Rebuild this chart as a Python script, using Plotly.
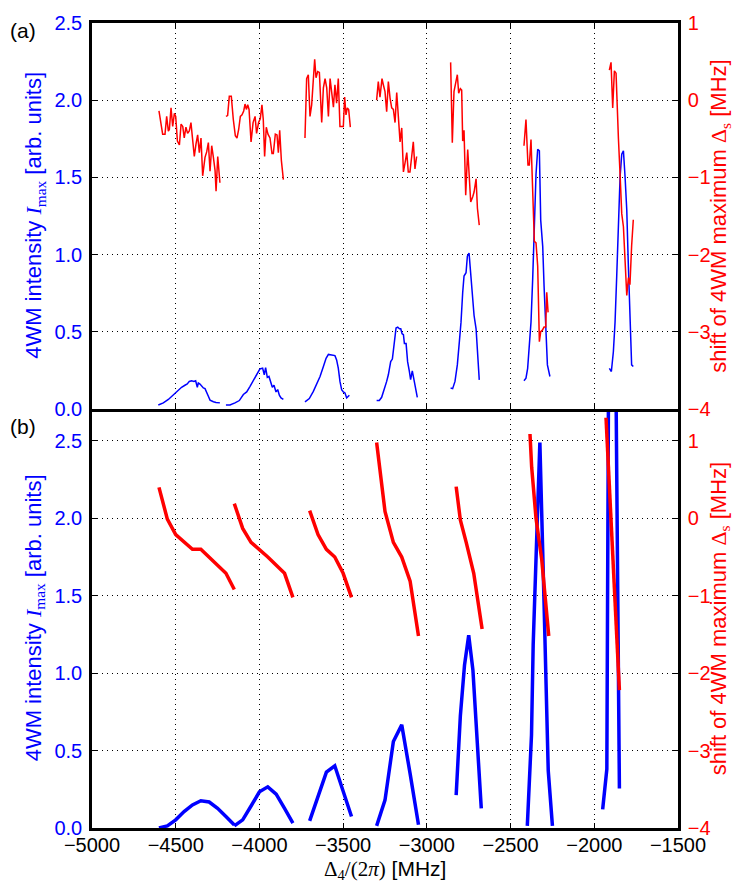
import plotly.graph_objects as go

# ---------------- panel (a): measured scans ----------------
# 4WM intensity I_max (left axis), one list per scan
meas_int_x = [
    [-4604, -4574, -4544, -4524, -4504, -4484, -4465, -4445, -4431, -4419, -4405, -4391, -4381,
     -4371, -4365, -4355, -4345, -4335, -4325, -4315, -4305, -4295, -4285, -4275, -4259, -4236],
    [-4200, -4176, -4146, -4120, -4096, -4076, -4056, -4036, -4017, -3997, -3981, -3971, -3963,
     -3953, -3943, -3933, -3923, -3913, -3901, -3891, -3881, -3871, -3857],
    [-3728, -3702, -3678, -3658, -3638, -3618, -3602, -3588, -3569, -3549, -3539, -3529, -3519,
     -3509, -3499, -3489, -3479, -3463],
    [-3300, -3284, -3270, -3250, -3240, -3230, -3216, -3206, -3196, -3184, -3174, -3164, -3156,
     -3148, -3140, -3134, -3124, -3115, -3105, -3097, -3087, -3077, -3067, -3057],
    [-2858, -2846, -2832, -2818, -2806, -2796, -2786, -2778, -2766, -2758, -2748, -2738, -2726,
     -2718, -2706, -2698, -2687],
    [-2420, -2408, -2398, -2388, -2378, -2368, -2358, -2348, -2338, -2328, -2320, -2308, -2300,
     -2290, -2280, -2265],
    [-1910, -1898, -1886, -1876, -1866, -1856, -1846, -1836, -1826, -1816, -1806, -1797, -1787,
     -1777, -1767],
]
meas_int = [
    [0.025, 0.039, 0.061, 0.082, 0.103, 0.125, 0.140, 0.153, 0.161, 0.178, 0.182, 0.178, 0.182,
     0.140, 0.168, 0.161, 0.146, 0.136, 0.131, 0.110, 0.082, 0.057, 0.050, 0.046, 0.042, 0.039],
    [0.025, 0.025, 0.039, 0.054, 0.093, 0.110, 0.146, 0.182, 0.225, 0.259, 0.264, 0.221, 0.268,
     0.204, 0.210, 0.168, 0.140, 0.153, 0.110, 0.125, 0.089, 0.071, 0.061],
    [0.046, 0.067, 0.114, 0.157, 0.210, 0.274, 0.328, 0.353, 0.349, 0.345, 0.317, 0.264, 0.178,
     0.125, 0.110, 0.103, 0.071, 0.089],
    [0.054, 0.054, 0.075, 0.135, 0.178, 0.221, 0.306, 0.323, 0.413, 0.524, 0.530, 0.519, 0.519,
     0.487, 0.481, 0.423, 0.423, 0.306, 0.246, 0.189, 0.246, 0.189, 0.125, 0.075],
    [0.135, 0.131, 0.178, 0.285, 0.434, 0.562, 0.754, 0.861, 0.882, 0.989, 1.010, 0.861, 0.669,
     0.605, 0.519, 0.391, 0.188],
    [0.182, 0.199, 0.263, 0.391, 0.562, 0.839, 1.138, 1.522, 1.682, 1.672, 1.223, 1.053, 0.797,
     0.562, 0.285, 0.210],
    [0.263, 0.242, 0.370, 0.562, 0.861, 1.159, 1.501, 1.650, 1.672, 1.501, 1.288, 0.946, 0.562,
     0.285, 0.274],
]

# shift of the 4WM maximum in MHz (right axis), one list per scan
meas_shift_x = [
    [-4600, -4578, -4564, -4554, -4544, -4538, -4528, -4518, -4508, -4500, -4490, -4478, -4468,
     -4458, -4449, -4439, -4429, -4419, -4409, -4399, -4389, -4379, -4369, -4359, -4349, -4339,
     -4325, -4315, -4305, -4295, -4285, -4275, -4265, -4259, -4249, -4236],
    [-4200, -4190, -4180, -4168, -4156, -4144, -4134, -4124, -4114, -4104, -4094, -4086, -4078,
     -4070, -4062, -4050, -4038, -4026, -4017, -4005, -3995, -3985, -3977, -3969, -3959, -3949,
     -3937, -3925, -3917, -3905, -3895, -3887, -3879, -3869, -3857],
    [-3728, -3718, -3708, -3698, -3688, -3678, -3670, -3662, -3652, -3642, -3628, -3618, -3608,
     -3598, -3588, -3578, -3568, -3558, -3549, -3539, -3529, -3519, -3509, -3499, -3491, -3483,
     -3475, -3467, -3457],
    [-3300, -3290, -3280, -3268, -3260, -3250, -3240, -3230, -3220, -3210, -3200, -3190, -3180,
     -3170, -3160, -3150, -3140, -3130, -3120, -3111, -3101, -3091, -3081, -3071, -3061],
    [-2858, -2848, -2838, -2828, -2818, -2810, -2800, -2792, -2786, -2778, -2768, -2756, -2746,
     -2738, -2726, -2718, -2706, -2698, -2687],
    [-2420, -2408, -2396, -2388, -2378, -2368, -2358, -2348, -2338, -2328, -2320, -2310, -2300,
     -2290, -2284, -2276],
    [-1910, -1900, -1890, -1880, -1870, -1862, -1856, -1846, -1836, -1826, -1816, -1806, -1796,
     -1787, -1777, -1767],
]
meas_shift = [
    [-0.14, -0.44, -0.44, -0.21, -0.40, -0.38, -0.10, -0.34, -0.17, -0.21, -0.53, -0.58, -0.31,
     -0.34, -0.49, -0.35, -0.43, -0.40, -0.29, -0.49, -0.73, -0.57, -0.45, -0.68, -0.49, -0.98,
     -0.74, -0.67, -0.55, -0.92, -0.59, -0.74, -0.91, -1.18, -0.73, -1.07],
    [-0.21, -0.20, 0.05, 0.05, -0.25, -0.46, -0.49, -0.38, -0.21, -0.19, -0.14, -0.05, -0.12,
     -0.06, -0.12, -0.54, -0.29, -0.21, -0.43, -0.29, -0.24, -0.06, -0.25, -0.73, -0.35, -0.44,
     -0.49, -0.69, -0.69, -0.44, -0.45, -0.68, -0.39, -0.78, -1.03],
    [-0.49, 0.28, 0.33, -0.21, -0.06, 0.24, 0.53, 0.29, 0.37, 0.36, -0.29, 0.16, 0.28,
     0.16, -0.21, 0.28, 0.11, -0.09, 0.20, -0.04, 0.28, -0.34, -0.34, -0.34, 0.04, -0.19,
     -0.10, -0.12, -0.35],
    [0.00, 0.24, 0.04, 0.28, 0.20, 0.11, -0.15, 0.24, 0.03, -0.10, -0.12, -0.29, 0.10,
     -0.19, -0.54, -0.36, -0.93, -0.81, -0.68, -0.93, -0.93, -0.74, -0.54, -0.89, -0.73],
    [0.49, -0.55, 0.11, 0.24, 0.33, 0.09, 0.15, 0.13, -0.53, -0.39, -1.23, -0.64, -0.96,
     -1.32, -1.25, -1.19, -1.02, -1.40, -1.62],
    [-0.59, -0.25, -0.84, -0.84, -0.51, -1.17, -1.83, -1.85, -2.15, -3.13, -3.00, -2.98, -2.94,
     -2.94, -2.49, -2.75],
    [0.39, 0.49, -0.10, 0.38, 0.35, -0.19, -0.49, -0.96, -1.47, -1.64, -2.11, -2.53, -2.30,
     -2.39, -1.89, -1.55],
]

# ---------------- panel (b): calculated curves ----------------
calc_int_x = [
    [-4600, -4550, -4500, -4450, -4400, -4350, -4300, -4250, -4200, -4150],
    [-4150, -4100, -4050, -4000, -3950, -3900, -3850, -3800],
    [-3700, -3650, -3600, -3550, -3500, -3450],
    [-3300, -3250, -3200, -3150, -3100, -3050],
    [-2825, -2800, -2775, -2750, -2725, -2675],
    [-2400, -2375, -2365, -2325, -2300, -2275, -2250],
    [-1950, -1925, -1900, -1850],
]
calc_int = [
    [0.0, 0.014, 0.053, 0.106, 0.149, 0.176, 0.168, 0.127, 0.074, 0.019],
    [0.014, 0.053, 0.142, 0.234, 0.266, 0.219, 0.127, 0.031],
    [0.046, 0.202, 0.361, 0.402, 0.244, 0.074],
    [0.014, 0.180, 0.559, 0.666, 0.351, 0.021],
    [0.212, 0.723, 1.053, 1.245, 1.021, 0.127],
    [0.014, 0.60, 1.18, 2.49, 1.45, 0.37, 0.014],
    [0.12, 0.38, 6.65, 0.255],
]
calc_shift_x = [
    [-4600, -4550, -4500, -4400, -4350, -4200, -4150],
    [-4150, -4100, -4050, -3950, -3850, -3800],
    [-3700, -3650, -3600, -3550, -3500, -3450],
    [-3300, -3250, -3200, -3150, -3100, -3050],
    [-2825, -2800, -2765, -2720, -2670],
    [-2384, -2374, -2348, -2314, -2272],
    [-1930, -1910, -1886, -1868, -1850],
]
calc_shift = [
    [0.40, -0.01, -0.21, -0.40, -0.40, -0.71, -0.92],
    [0.19, -0.13, -0.31, -0.50, -0.71, -1.02],
    [0.10, -0.21, -0.40, -0.50, -0.71, -1.02],
    [0.98, 0.09, -0.31, -0.50, -0.81, -1.52],
    [0.41, -0.02, -0.31, -0.71, -1.43],
    [1.09, 0.66, 0.00, -0.53, -1.52],
    [1.30, 0.40, -0.57, -1.35, -2.22],
]

x_ticks = list(range(-5000, -1499, 500))
int_ticks = [0.0, 0.5, 1.0, 1.5, 2.0, 2.5]
shift_ticks = [-4, -3, -2, -1, 0, 1]

BLUE = "#0000ff"
RED = "#ff0000"
SANS = "Liberation Sans, Arial, Helvetica, sans-serif"
SERIF = "Liberation Serif, Times New Roman, serif"
TICK_SIZE = 20
TITLE_SIZE = 22

fig = go.Figure()

# panel (a): thin lines; intensity on y3, shift on y4
for xs, ys in zip(meas_int_x, meas_int):
    fig.add_trace(go.Scatter(x=xs, y=ys, mode="lines", xaxis="x2", yaxis="y3",
                             line=dict(color=BLUE, width=1.5), showlegend=False))
for xs, ys in zip(meas_shift_x, meas_shift):
    fig.add_trace(go.Scatter(x=xs, y=ys, mode="lines", xaxis="x2", yaxis="y4",
                             line=dict(color=RED, width=1.5), showlegend=False))

# panel (b): thick lines; intensity on y, shift on y2
for xs, ys in zip(calc_int_x, calc_int):
    fig.add_trace(go.Scatter(x=xs, y=ys, mode="lines", xaxis="x", yaxis="y",
                             line=dict(color=BLUE, width=3.5), showlegend=False))
for xs, ys in zip(calc_shift_x, calc_shift):
    fig.add_trace(go.Scatter(x=xs, y=ys, mode="lines", xaxis="x", yaxis="y2",
                             line=dict(color=RED, width=3.5), showlegend=False))

split = 423.8 / 814.0
grid = dict(showgrid=True, gridcolor="black", gridwidth=1, griddash="1.3px,3.7px")
ticks = dict(ticks="inside", ticklen=5, tickwidth=1, tickcolor="black", zeroline=False)
frame = dict(showline=True, linecolor="black", linewidth=2.5)

fig.update_layout(
    width=735, height=888,
    margin=dict(l=92, r=57, t=14, b=60),
    paper_bgcolor="white", plot_bgcolor="white",
    font=dict(family=SANS, size=TICK_SIZE, color="black"),
    # bottom panel x axis (labelled); its top edge is drawn by the upper panel's axis line
    xaxis=dict(domain=[0, 1], anchor="y", range=[-5000, -1500], tickvals=x_ticks,
               tickfont=dict(size=TICK_SIZE, color="black"), ticklabelstandoff=-3,
               mirror=False, **frame, **grid, **ticks),
    # top panel x axis: shares the range, line doubles as the boundary between panels
    xaxis2=dict(domain=[0, 1], anchor="y3", matches="x", range=[-5000, -1500],
                tickvals=x_ticks, showticklabels=False, mirror="ticks",
                **frame, **grid, **ticks),
    yaxis=dict(domain=[0, split], anchor="x", range=[0, 2.707], tickvals=int_ticks,
               tickformat=".1f", tickfont=dict(color=BLUE, size=TICK_SIZE),
               ticklabelstandoff=3, **frame, **grid, **ticks),
    yaxis2=dict(overlaying="y", anchor="x", side="right", range=[-4, 1.414],
                tickvals=shift_ticks, tickfont=dict(color=RED, size=TICK_SIZE),
                ticklabelstandoff=3, showgrid=False, **frame, **ticks),
    yaxis3=dict(domain=[split, 1], anchor="x2", range=[0, 2.5], tickvals=int_ticks,
                tickformat=".1f", tickfont=dict(color=BLUE, size=TICK_SIZE),
                ticklabelstandoff=3, **frame, **grid, **ticks),
    yaxis4=dict(overlaying="y3", anchor="x2", side="right", range=[-4, 1],
                tickvals=shift_ticks, tickfont=dict(color=RED, size=TICK_SIZE),
                ticklabelstandoff=3, showgrid=False, **frame, **ticks),
)

left_title = ("4WM intensity <span style='font-family:%s'><i>I</i></span>"
              "<sub><span style='font-family:%s'>max</span></sub> [arb. units]" % (SERIF, SERIF))
right_title = ("shift of 4WM maximum <span style='font-family:%s'>Δ</span>"
               "<sub><span style='font-family:%s'>s</span></sub> [MHz]" % (SERIF, SERIF))
x_title = ("<span style='font-family:%s'>Δ<sub>4</sub>/(2<i>π</i>)</span> [MHz]" % SERIF)

W = 586.0
H = 814.0
pa_mid = 1 - (209 - 14) / H
pb_mid = 1 - (616 - 14) / H

annotations = [
    dict(text=left_title, x=(35 - 92) / W, y=pa_mid, textangle=-90,
         font=dict(color=BLUE, size=TITLE_SIZE)),
    dict(text=left_title, x=(35 - 92) / W, y=pb_mid, textangle=-90,
         font=dict(color=BLUE, size=TITLE_SIZE)),
    dict(text=right_title, x=(720 - 92) / W, y=pa_mid, textangle=-90,
         font=dict(color=RED, size=TITLE_SIZE)),
    dict(text=right_title, x=(720 - 92) / W, y=pb_mid, textangle=-90,
         font=dict(color=RED, size=TITLE_SIZE)),
    dict(text=x_title, x=(385 - 92) / W, y=1 - (870 - 14) / H,
         font=dict(color="black", size=21)),
    dict(text="(a)", x=(23 - 92) / W, y=1 - (22 - 14) / H, font=dict(color="black", size=21)),
    dict(text="(b)", x=(23 - 92) / W, y=1 - (422 - 14) / H, font=dict(color="black", size=21)),
]
for a in annotations:
    a.update(xref="paper", yref="paper", showarrow=False, xanchor="center", yanchor="middle")
fig.update_layout(annotations=annotations)

fig.write_html("out.html")
